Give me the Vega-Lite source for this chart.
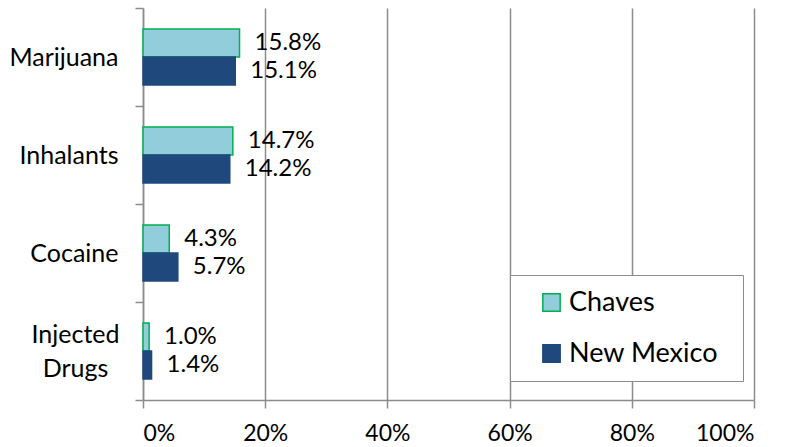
{
  "$schema": "https://vega.github.io/schema/vega-lite/v6.json",
  "width": 611,
  "height": 392,
  "autosize": {"type": "none"},
  "padding": {"left": 143, "top": 8, "right": 32, "bottom": 47},
  "background": "white",
  "config": {
    "view": {"stroke": null},
    "font": "Lato",
    "axis": {"domainColor": "#8c8c8c", "tickColor": "#8c8c8c", "gridColor": "#8c8c8c", "domainWidth": 1.5, "tickWidth": 1.5, "gridWidth": 1.5, "labelColor": "#000000", "labelFont": "Lato", "labelFontSize": 23}
  },
  "data": {
    "values": [
      {"drug": "Marijuana", "series": "Chaves", "value": 0.158},
      {"drug": "Marijuana", "series": "New Mexico", "value": 0.151},
      {"drug": "Inhalants", "series": "Chaves", "value": 0.147},
      {"drug": "Inhalants", "series": "New Mexico", "value": 0.142},
      {"drug": "Cocaine", "series": "Chaves", "value": 0.043},
      {"drug": "Cocaine", "series": "New Mexico", "value": 0.057},
      {"drug": "Injected Drugs", "series": "Chaves", "value": 0.010},
      {"drug": "Injected Drugs", "series": "New Mexico", "value": 0.014}
    ]
  },
  "encoding": {
    "y": {
      "field": "drug", "type": "nominal",
      "sort": ["Marijuana", "Inhalants", "Cocaine", "Injected Drugs"],
      "scale": {"paddingInner": 0, "paddingOuter": 0},
      "axis": {"title": null, "tickBand": "extent", "tickSize": 8, "grid": false, "labelLineHeight": 34, "labelFontSize": 25,
        "labelPadding": {"condition": {"test": "datum.value == 'Injected Drugs'", "value": 60}, "value": 17},
        "labelAlign": {"condition": {"test": "datum.value == 'Injected Drugs'", "value": "center"}, "value": "right"},
        "labelOffset": {"condition": {"test": "datum.value == 'Injected Drugs'", "value": -17}, "value": 0},
        "labelExpr": "datum.value == 'Injected Drugs' ? ['Injected', 'Drugs'] : datum.value"}
    },
    "yOffset": {"field": "series", "type": "nominal", "sort": ["Chaves", "New Mexico"], "scale": {"paddingInner": 0, "paddingOuter": 0.75}},
    "x": {
      "field": "value", "type": "quantitative",
      "scale": {"domain": [0, 1], "nice": false},
      "axis": {"title": null, "values": [0, 0.2, 0.4, 0.6, 0.8, 1], "format": ".0%", "tickSize": 8, "labelPadding": 14, "grid": true}
    }
  },
  "layer": [
    {
      "mark": {"type": "bar", "strokeWidth": 1.5},
      "encoding": {
        "color": {"field": "series", "type": "nominal", "sort": ["Chaves", "New Mexico"],
          "scale": {"domain": ["Chaves", "New Mexico"], "range": ["#92cddc", "#1f497d"]},
          "legend": {"title": null, "orient": "none", "legendX": 367, "legendY": 267, "direction": "vertical",
            "strokeColor": "#8c8c8c", "fillColor": "#ffffff", "padding": 14, "labelFontSize": 27, "labelFont": "Lato", "labelColor": "#000000", "labelLimit": 400,
            "symbolType": "square", "symbolSize": 300, "rowPadding": 23, "symbolStrokeWidth": 1.5, "labelOffset": 4, "symbolOffset": 14,
            "labelExpr": "datum.label + '\u00a0\u2009\u200b'"}
        },
        "stroke": {"field": "series", "type": "nominal", "sort": ["Chaves", "New Mexico"],
          "scale": {"domain": ["Chaves", "New Mexico"], "range": ["#00b050", "#1f497d"]},
          "legend": {"title": null, "orient": "none", "legendX": 367, "legendY": 267, "direction": "vertical",
            "strokeColor": "#8c8c8c", "fillColor": "#ffffff", "padding": 14, "labelFontSize": 27, "labelFont": "Lato", "labelColor": "#000000", "labelLimit": 400,
            "symbolType": "square", "symbolSize": 300, "rowPadding": 23, "symbolStrokeWidth": 1.5, "labelOffset": 4, "symbolOffset": 14,
            "labelExpr": "datum.label + '\u00a0\u2009\u200b'"}
        }
      }
    },
    {
      "mark": {"type": "text", "align": "left", "baseline": "middle", "dx": 15, "fontSize": 24, "font": "Lato", "color": "#000000"},
      "encoding": {
        "text": {"field": "value", "type": "quantitative", "format": ".1%"}
      }
    }
  ]
}
